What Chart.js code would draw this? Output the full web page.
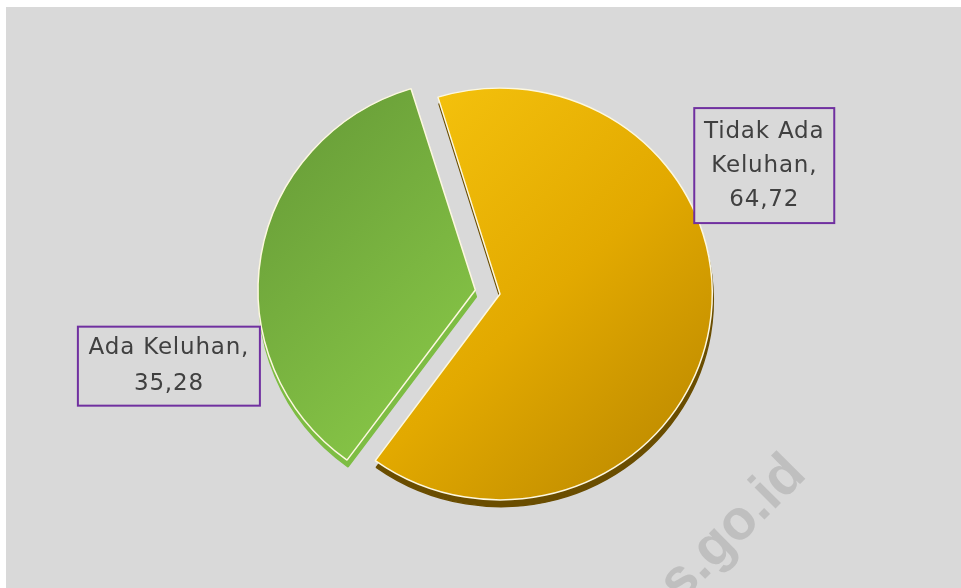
<!DOCTYPE html>
<html>
<head>
<meta charset="utf-8">
<script src="https://cdn.jsdelivr.net/npm/chart.js@4/dist/chart.umd.min.js"></script>
<style>
    html, body { margin: 0; padding: 0; background: #fff; }
    #wrap { position: relative; width: 961px; height: 588px; }
</style>
</head>
<body>
<div id="wrap"><canvas id="myChart"></canvas></div>
<script>
// Chart values
const categories = ['Tidak Ada Keluhan', 'Ada Keluhan'];
const values = [64.72, 35.28];
// Green slice is pulled out of the pie
const explode = [0, 100];

// Colours: gradient start/end and the 3D side of each slice
const lightColors = ['#f6c40e', '#689d38'];
const darkColors = ['#b07f00', '#88c747'];
const sideColors = ['#6a4d00', '#7dbd43'];

// Label boxes, placed relative to pie centre in units of radius
const labelBoxes = [
    { dx: 1.245, dy: -0.605, w: 140, h: 115 },
    { dx: -1.56, dy: 0.34, w: 182, h: 79 }
];

// slight 3D tilt of the pie
const tilt = 0.97;

function fmt(v) {
    return v.toFixed(2).replace('.', ',');
}

function wrapText(ctx, text, maxWidth) {
    const words = text.split(' ');
    const lines = [];
    let line = '';
    words.forEach(w => {
        const test = line ? line + ' ' + w : w;
        if (ctx.measureText(test).width > maxWidth && line) {
            lines.push(line);
            line = w;
        } else {
            line = test;
        }
    });
    if (line) lines.push(line);
    return lines;
}

// Grey panel behind the chart
const backgroundPlugin = {
    id: 'panel',
    beforeDraw(chart) {
        const ctx = chart.ctx;
        ctx.save();
        ctx.fillStyle = '#ffffff';
        ctx.fillRect(0, 0, chart.width, chart.height);
        ctx.fillStyle = '#d9d9d9';
        ctx.fillRect(6, 7, chart.width - 6, chart.height - 7);
        // faint watermark
        ctx.translate(808, 476);
        ctx.rotate(-Math.PI / 4);
        ctx.font = 'bold 56px "Liberation Sans", Arial, sans-serif';
        ctx.fillStyle = 'rgba(160, 160, 160, 0.45)';
        ctx.textAlign = 'right';
        ctx.textBaseline = 'alphabetic';
        ctx.fillText('bps.go.id', 0, 0);
        ctx.restore();
    }
};

// Draw a darker copy of each slice a few pixels lower to fake the 3D edge
const sidePlugin = {
    id: 'side',
    beforeDatasetsDraw(chart) {
        const ctx = chart.ctx;
        const meta = chart.getDatasetMeta(0);
        const cx = meta.data[0].x;
        const cy = meta.data[0].y;
        ctx.save();
        ctx.translate(cx, cy);
        ctx.scale(1, tilt);
        ctx.translate(-cx, -cy);
        meta.data.forEach((arc, i) => {
            const saved = arc.options;
            arc.options = Object.assign({}, saved, {
                backgroundColor: sideColors[i],
                borderColor: sideColors[i]
            });
            ctx.save();
            ctx.translate(1, 7);
            arc.draw(ctx);
            ctx.restore();
            arc.options = saved;
        });
    },
    afterDatasetsDraw(chart) {
        chart.ctx.restore();
    }
};

// Data labels in purple boxes
const labelPlugin = {
    id: 'boxLabels',
    afterDatasetsDraw(chart) {
        const ctx = chart.ctx;
        const meta = chart.getDatasetMeta(0);
        const first = meta.data[0];
        const cx = first.x;
        const cy = first.y;
        const r = first.outerRadius;
        ctx.save();
        ctx.font = '23px "DejaVu Sans", sans-serif';
        ctx.letterSpacing = '0.8px';
        ctx.textAlign = 'center';
        ctx.textBaseline = 'middle';
        meta.data.forEach((arc, i) => {
            const box = labelBoxes[i];
            const bx = cx + box.dx * r;
            const by = cy + box.dy * r;
            const lines = wrapText(ctx, categories[i] + ',', box.w - 8);
            lines.push(fmt(values[i]));
            ctx.fillStyle = '#d9d9d9';
            ctx.fillRect(bx - box.w / 2, by - box.h / 2, box.w, box.h);
            ctx.strokeStyle = '#7030a0';
            ctx.lineWidth = 2;
            ctx.strokeRect(bx - box.w / 2, by - box.h / 2, box.w, box.h);
            const lh = lines.length > 2 ? 34 : 36;
            ctx.fillStyle = '#404040';
            lines.forEach((t, k) => {
                ctx.fillText(t, bx, by + (k - (lines.length - 1) / 2) * lh);
            });
        });
        ctx.restore();
    }
};

function sliceGradient(context) {
    const chart = context.chart;
    const area = chart.chartArea;
    if (!area) return lightColors[context.dataIndex];
    const i = context.dataIndex;
    const g = chart.ctx.createLinearGradient(area.left, area.top, area.right, area.bottom);
    if (i === 0) {
        g.addColorStop(0.2, lightColors[0]);
        g.addColorStop(0.55, '#e2a900');
        g.addColorStop(0.95, darkColors[0]);
    } else {
        g.addColorStop(0.15, lightColors[1]);
        g.addColorStop(0.6, darkColors[1]);
    }
    return g;
}

const ctx = document.getElementById('myChart').getContext('2d');
const pieChart = new Chart(ctx, {
    type: 'pie',
    data: {
        labels: categories,
        datasets: [{
            data: values,
            backgroundColor: sliceGradient,
            borderColor: '#fdf8e0',
            borderWidth: 1.5,
            offset: explode
        }]
    },
    options: {
        responsive: true,
        maintainAspectRatio: false,
        animation: false,
        rotation: -17,
        layout: {
            padding: { left: 237, right: 198, top: 31, bottom: 31 }
        },
        plugins: {
            legend: { display: false },
            tooltip: { enabled: false }
        }
    },
    plugins: [backgroundPlugin, sidePlugin, labelPlugin]
});
</script>
</body>
</html>
